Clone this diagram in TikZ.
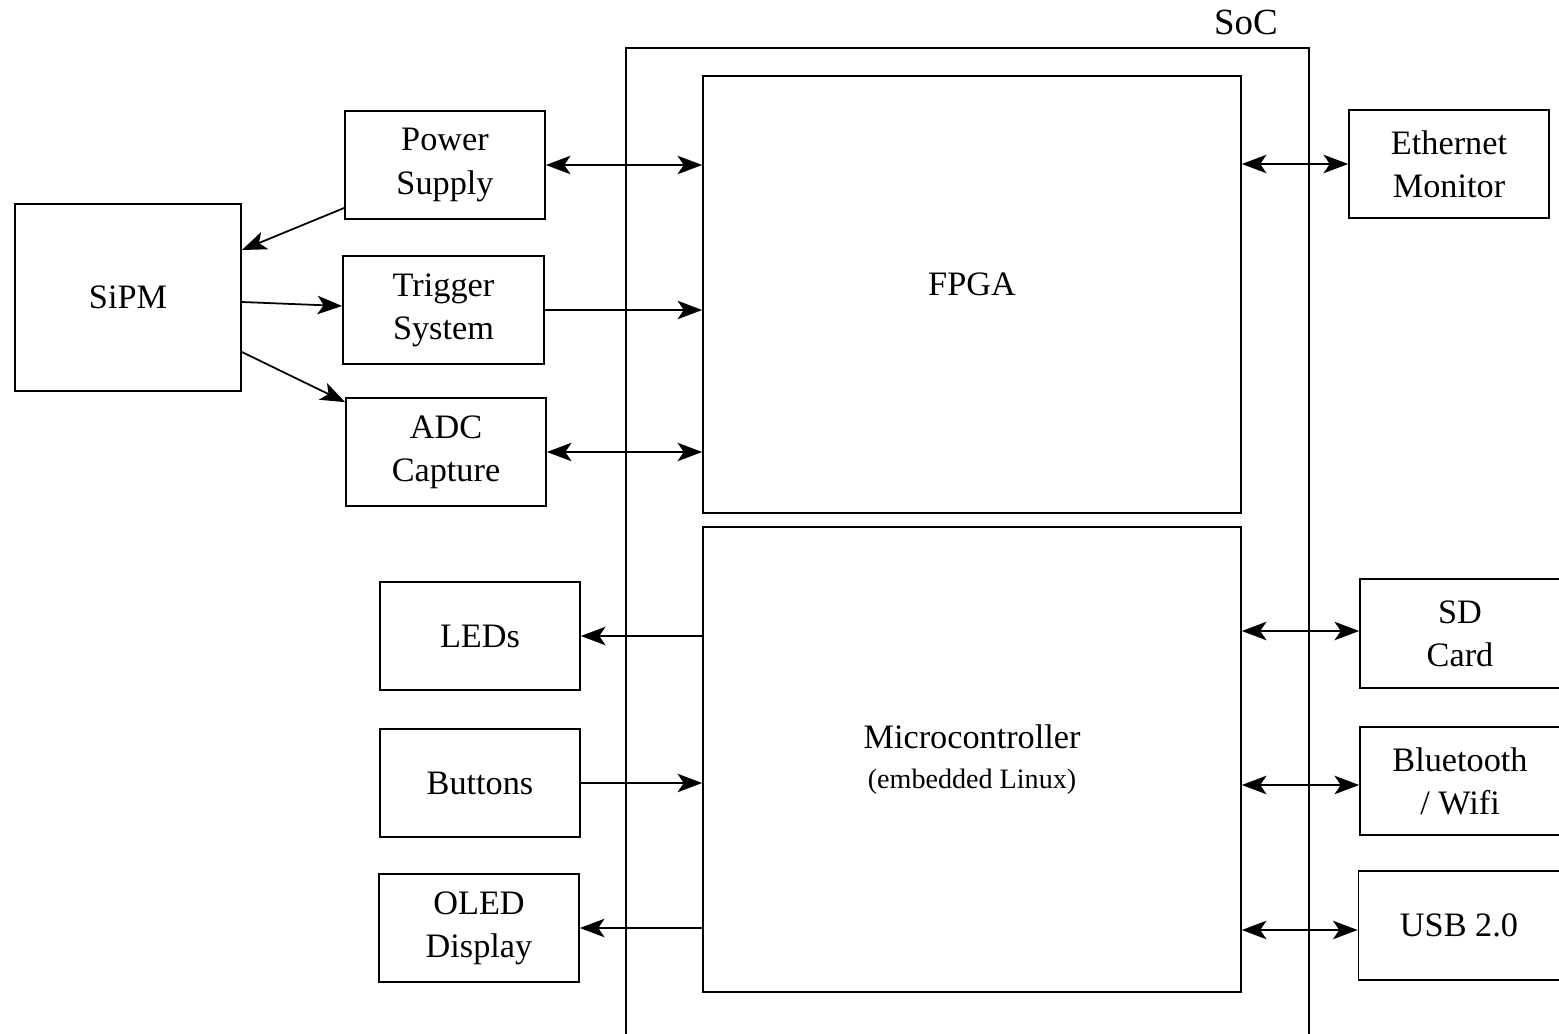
\documentclass[tikz,border=0pt]{standalone}
\usepackage{fontspec}
\setmainfont{Liberation Serif}
\usetikzlibrary{arrows.meta,calc}
\tikzset{
  >={Stealth[length=14pt,width=10.5pt,inset=3.5pt]},
  blk/.style={draw,line width=1pt,align=center,inner sep=2pt,
              font=\fontsize{19.5}{24.5}\selectfont},
  sblk/.style={blk,minimum width=4cm,minimum height=2.16cm},
  bigblk/.style={blk,minimum width=10.76cm},
  lnk/.style={->,line width=1pt},
  blnk/.style={<->,line width=1pt},
}
\begin{document}
\begin{tikzpicture}[x=0.02cm,y=-0.02cm]
  \useasboundingbox (0,0) rectangle (1559,1034);
  % SoC outline (open at the bottom)
  \draw[line width=1pt] (626,1040) -- (626,48) -- (1309,48) -- (1309,1040);
  \node[font=\fontsize{21}{25}\selectfont] (soc) at (1246,22) {SoC};
  % inside the SoC
  \node[bigblk,minimum height=8.74cm,text depth=0.4cm] (fpga) at (972,294.5) {FPGA};
  \node[bigblk,minimum height=9.3cm] (mcu) at (972,759.5)
    {Microcontroller\\[-2pt]{\fontsize{16}{19}\selectfont(embedded Linux)}};
  % left side
  \node[blk,minimum width=4.52cm,minimum height=3.74cm] (sipm) at (128,297.5) {SiPM};
  \node[sblk] (psu) at (445,165) {Power\\Supply};
  \node[sblk,minimum width=4.02cm] (trig) at (443.5,310) {Trigger\\System};
  \node[sblk] (adc) at (446,452) {ADC\\Capture};
  \node[sblk] (leds) at (480,636) {LEDs};
  \node[sblk] (btn) at (480,783) {Buttons};
  \node[sblk] (oled) at (479,928) {OLED\\Display};
  % right side
  \node[sblk] (eth) at (1449,164) {Ethernet\\Monitor};
  \node[sblk,minimum height=2.18cm] (sd) at (1460,633.5) {SD\\Card};
  \node[sblk] (bt) at (1460,781) {Bluetooth\\/ Wifi};
  \node[sblk,minimum width=4.02cm,minimum height=2.18cm] (usb) at (1459,925.5) {USB 2.0};
  % sensor links
  \draw[lnk] ([yshift=-0.86cm]psu.west) -- ([yshift=0.95cm]sipm.east);
  \draw[lnk] ([yshift=-0.09cm]sipm.east) -- ([yshift=0.08cm]trig.west);
  \draw[lnk] ([yshift=-1.09cm]sipm.east) -- ([yshift=-0.1cm]adc.north west);
  % FPGA links
  \draw[blnk] (psu.east) -- (psu.east -| fpga.west);
  \draw[lnk] (trig.east) -- (trig.east -| fpga.west);
  \draw[blnk] (adc.east) -- (adc.east -| fpga.west);
  \draw[blnk] (fpga.east |- eth.west) -- (eth.west);
  % microcontroller links
  \draw[lnk] (leds.east -| mcu.west) -- (leds.east);
  \draw[lnk] (btn.east) -- (btn.east -| mcu.west);
  \draw[lnk] (oled.east -| mcu.west) -- (oled.east);
  \draw[blnk] ([yshift=0.05cm]mcu.east |- sd.west) -- ([yshift=0.05cm]sd.west);
  \draw[blnk] ([yshift=-0.08cm]mcu.east |- bt.west) -- ([yshift=-0.08cm]bt.west);
  \draw[blnk] ([yshift=-0.09cm]mcu.east |- usb.west) -- ([yshift=-0.09cm]usb.west);
\end{tikzpicture}
\end{document}
